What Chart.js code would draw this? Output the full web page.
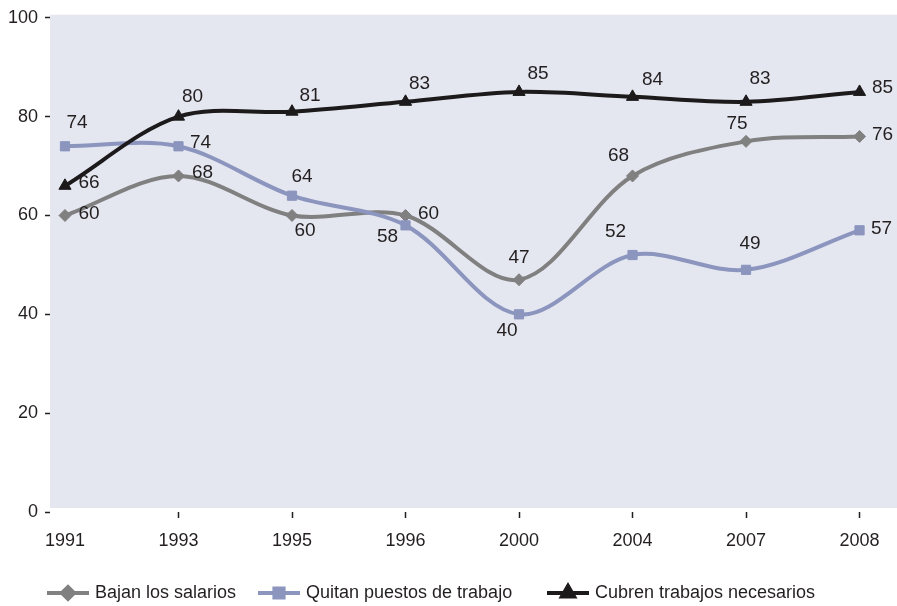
<!DOCTYPE html>
<html>
<head>
<meta charset="utf-8">
<script src="https://cdn.jsdelivr.net/npm/chart.js@4.4.1/dist/chart.umd.min.js"></script>
<style>
  html, body { margin: 0; padding: 0; background: #fff; }
  #wrap { width: 897px; height: 606px; }
</style>
</head>
<body>
<div id="wrap"><canvas id="chart"></canvas></div>
<script>
// ---- datos ----
const years = ['1991', '1993', '1995', '1996', '2000', '2004', '2007', '2008'];
const bajanSalarios = [60, 68, 60, 60, 47, 68, 75, 76];
const quitanPuestos = [74, 74, 64, 58, 40, 52, 49, 57];
const cubrenTrabajos = [66, 80, 81, 83, 85, 84, 83, 85];
const yTicks = [0, 20, 40, 60, 80, 100];

const FONT = '"Liberation Sans", Arial, Helvetica, sans-serif';
const TEXT = '#231f20';

// posicion de cada etiqueta respecto a su punto (dx, dy)
const labelOffsets = [
  [[24, -2], [24, -3], [13, 15], [23, -2], [0, -22], [-14, -20], [-9, -18], [23, -2]],
  [[12, -24], [22, -4], [10, -19], [-18, 11], [-12, 16], [-17, -23], [4, -26], [22, -2]],
  [[24, -3], [14, -20], [18, -16], [14, -18], [19, -18], [20, -17], [14, -23], [23, -4]]
];

const toPoints = arr => arr.map((v, i) => ({ x: i, y: v }));

function makeDataset(label, values, color, style, radius, order) {
  return {
    label: label,
    data: toPoints(values),
    borderColor: color,
    backgroundColor: color,
    borderWidth: 4,
    tension: 0.33,
    pointStyle: style,
    pointRadius: radius,
    pointBackgroundColor: color,
    pointBorderColor: color,
    pointBorderWidth: 1,
    order: order
  };
}

// fondo del area de trazado
const bgPlugin = {
  id: 'bgArea',
  beforeDraw(chart) {
    const { ctx, chartArea: a } = chart;
    ctx.save();
    ctx.fillStyle = '#e4e6f0';
    ctx.fillRect(a.left, a.top - 3, a.right - a.left, a.bottom - a.top - 1);
    ctx.restore();
  }
};

// etiquetas de valores
const labelPlugin = {
  id: 'valueLabels',
  afterDatasetsDraw(chart) {
    const ctx = chart.ctx;
    ctx.save();
    ctx.font = '19px ' + FONT;
    ctx.fillStyle = TEXT;
    ctx.textAlign = 'center';
    ctx.textBaseline = 'middle';
    chart.data.datasets.forEach((ds, di) => {
      const meta = chart.getDatasetMeta(di);
      meta.data.forEach((pt, i) => {
        const off = labelOffsets[di][i];
        ctx.fillText(String(ds.data[i].y), pt.x + off[0], pt.y + off[1]);
      });
    });
    ctx.restore();
  }
};

// leyenda: linea + marcador + texto
const legendPlugin = {
  id: 'lineLegend',
  afterDraw(chart) {
    const ctx = chart.ctx;
    const items = [{ x: 47, di: 0 }, { x: 258, di: 1 }, { x: 547, di: 2 }];
    const y = 593;
    ctx.save();
    items.forEach(it => {
      const ds = chart.data.datasets[it.di];
      ctx.strokeStyle = ds.borderColor;
      ctx.lineWidth = 4;
      ctx.beginPath();
      ctx.moveTo(it.x, y);
      ctx.lineTo(it.x + 42, y);
      ctx.stroke();
      ctx.fillStyle = ds.borderColor;
      Chart.helpers.drawPoint(ctx, {
        pointStyle: ds.pointStyle,
        radius: ds.pointRadius,
        rotation: 0,
        borderWidth: 1
      }, it.x + 21, y);
      ctx.fillStyle = TEXT;
      ctx.font = '18px ' + FONT;
      ctx.textAlign = 'left';
      ctx.textBaseline = 'middle';
      ctx.fillText(ds.label, it.x + 48, y);
    });
    ctx.restore();
  }
};

new Chart(document.getElementById('chart'), {
  type: 'line',
  data: {
    datasets: [
      makeDataset('Bajan los salarios', bajanSalarios, '#808080', 'rectRot', 6, 2),
      makeDataset('Quitan puestos de trabajo', quitanPuestos, '#8b95be', 'rect', 6.5, 1),
      makeDataset('Cubren trabajos necesarios', cubrenTrabajos, '#1c1a1b', 'triangle', 7, 0)
    ]
  },
  options: {
    responsive: true,
    maintainAspectRatio: false,
    animation: false,
    layout: { autoPadding: false, padding: { top: 14, right: 0, bottom: 50, left: 0 } },
    plugins: { legend: { display: false }, tooltip: { enabled: false } },
    scales: {
      x: {
        type: 'linear',
        min: -0.132,
        max: 7.33,
        afterBuildTicks: s => { s.ticks = years.map((_, i) => ({ value: i })); },
        afterFit: s => { s.height = 44; s.paddingLeft = 0; s.paddingRight = 0; },
        border: { display: false },
        grid: {
          drawOnChartArea: false,
          drawTicks: true,
          tickLength: 6,
          tickWidth: 1.5,
          tickColor: c => (c.index === 0 ? 'rgba(0,0,0,0)' : TEXT)
        },
        ticks: {
          autoSkip: false,
          maxRotation: 0,
          padding: 12,
          color: TEXT,
          font: { family: FONT, size: 18 },
          callback: v => years[v]
        }
      },
      y: {
        min: 0,
        max: 100,
        afterBuildTicks: s => { s.ticks = yTicks.map(v => ({ value: v })); },
        afterFit: s => { s.width = 50; },
        border: { display: false },
        grid: {
          drawOnChartArea: false,
          drawTicks: true,
          tickLength: 5,
          tickWidth: 1.5,
          tickColor: TEXT
        },
        ticks: {
          padding: 7,
          color: TEXT,
          font: { family: FONT, size: 18 }
        }
      }
    }
  },
  plugins: [bgPlugin, labelPlugin, legendPlugin]
});
</script>
</body>
</html>
